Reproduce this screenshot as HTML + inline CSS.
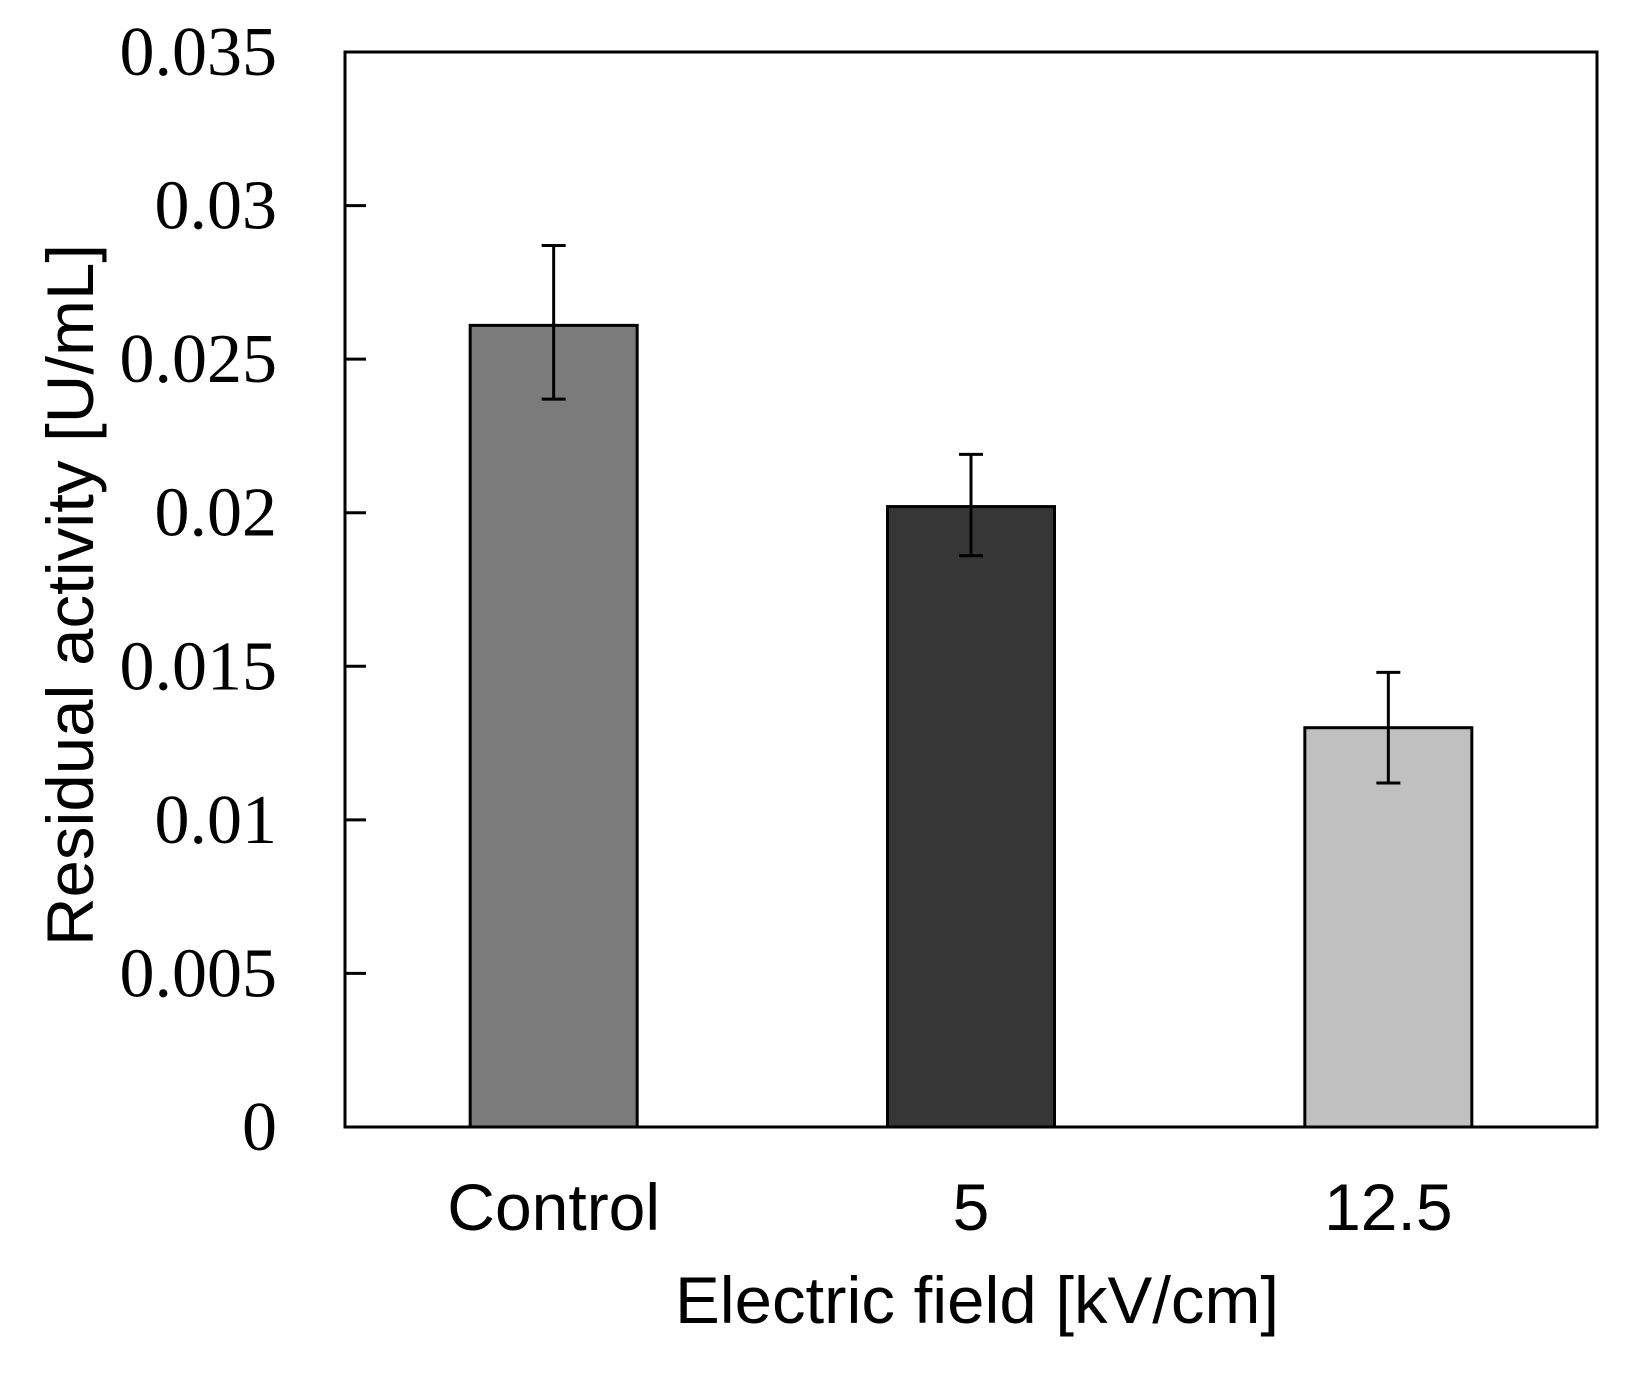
<!DOCTYPE html>
<html><head><meta charset="utf-8"><style>
html,body{margin:0;padding:0;background:#fff;}
svg{display:block;}
</style></head><body>
<svg id="chart" width="1631" height="1378" viewBox="0 0 1631 1378" xmlns="http://www.w3.org/2000/svg">
<rect x="0" y="0" width="1631" height="1378" fill="#fff"/>
<g id="marks"></g>
<rect x="345" y="52" width="1252" height="1075" fill="none" stroke="#000" stroke-width="3"/>
<g id="yticks"></g>
<g id="xlabels"></g>
<text x="977" y="1323" font-family="'Liberation Sans', Arial, sans-serif" font-size="66" text-anchor="middle" textLength="604" lengthAdjust="spacingAndGlyphs">Electric field [kV/cm]</text>
<text transform="translate(93,595) rotate(-90)" font-family="'Liberation Sans', Arial, sans-serif" font-size="66" text-anchor="middle" textLength="702" lengthAdjust="spacingAndGlyphs">Residual activity [U/mL]</text>
</svg>
<script>
const categories = ["Control", "5", "12.5"];
const values = [0.0261, 0.0202, 0.0130];
const errUpper = [0.0287, 0.0219, 0.0148];
const errLower = [0.0237, 0.0186, 0.0112];
const colors = ["#7b7b7b", "#363636", "#c0c0c0"];
const yTicks = [0, 0.005, 0.01, 0.015, 0.02, 0.025, 0.03, 0.035];
const yTickLabels = ["0", "0.005", "0.01", "0.015", "0.02", "0.025", "0.03", "0.035"];

const NS = "http://www.w3.org/2000/svg";
const X0 = 345, X1 = 1597, Y0 = 1127, Y1 = 52, YMAX = 0.035;
function yScale(v){ return Y0 - (v / YMAX) * (Y0 - Y1); }
const band = (X1 - X0) / categories.length;
function xCenter(i){ return X0 + band * (i + 0.5); }
const barW = 167;
function mk(tag, attrs, parent){ const e = document.createElementNS(NS, tag); for (const k in attrs) e.setAttribute(k, attrs[k]); parent.appendChild(e); return e; }

const marks = document.getElementById('marks');
categories.forEach((c, i) => {
  const cx = xCenter(i);
  const r = mk('rect', {x: cx - barW/2, y: yScale(values[i]), width: barW, height: Y0 - yScale(values[i]), fill: colors[i], stroke: '#000', 'stroke-width': 3}, marks);
  
  
  const g = mk('g', {stroke: '#000', 'stroke-width': 3}, marks);
  
  
  mk('line', {x1: cx, x2: cx, y1: yScale(errUpper[i]), y2: yScale(errLower[i])}, g);
  mk('line', {x1: cx - 12, x2: cx + 12, y1: yScale(errUpper[i]), y2: yScale(errUpper[i])}, g);
  mk('line', {x1: cx - 12, x2: cx + 12, y1: yScale(errLower[i]), y2: yScale(errLower[i])}, g);
});

const yt = document.getElementById('yticks');
yTicks.forEach((v, i) => {
  const y = yScale(v);
  const l = mk('line', {x1: X0, x2: X0 + 21, y1: y, y2: y, stroke: '#000', 'stroke-width': 3}, yt);
  
  
  const t = mk('text', {x: 277, y: y + 23, 'text-anchor': 'end', 'font-family': "'Liberation Serif', 'Times New Roman', serif", 'font-size': 70}, yt);
  t.textContent = yTickLabels[i];
  
  
});

const xl = document.getElementById('xlabels');
categories.forEach((c, i) => {
  const t = mk('text', {x: xCenter(i), y: 1230, 'text-anchor': 'middle', 'font-family': "'Liberation Sans', Arial, sans-serif", 'font-size': 66}, xl);
  t.textContent = c;
  
  
});
</script>
</body></html>
